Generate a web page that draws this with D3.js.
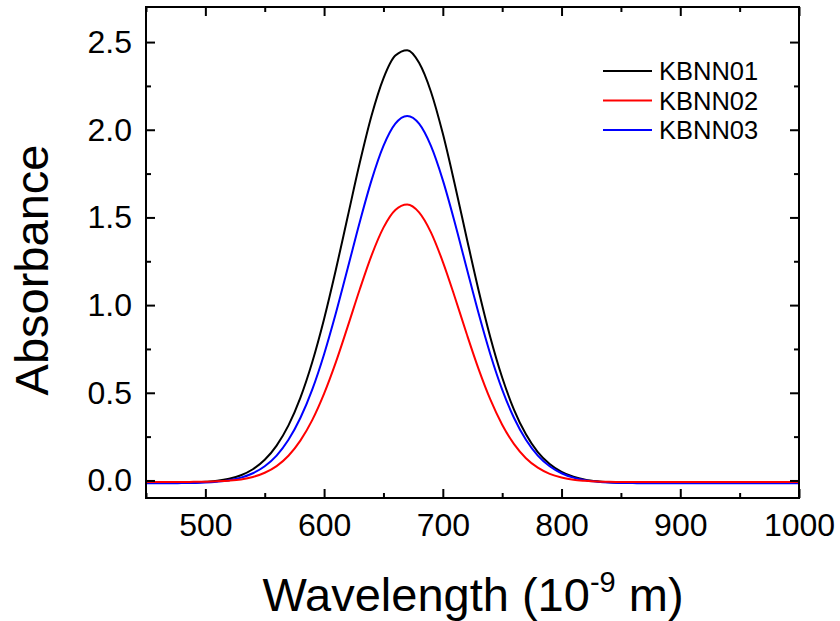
<!DOCTYPE html>
<html>
<head>
<meta charset="utf-8">
<script src="https://cdn.jsdelivr.net/npm/d3@7"></script>
<style>
  body { margin: 0; background: #fff; }
  svg { display: block; font-family: Arial, "Liberation Sans", sans-serif; }
</style>
</head>
<body>
<svg id="chart" width="840" height="621"></svg>
<script>
const wavelengths = [450,460,470,480,490,500,510,520,530,540,550,560,570,580,590,600,610,620,630,640,650,660,670,680,690,700,710,720,730,740,750,760,770,780,790,800,810,820,830,840,850,860,870,880,890,900,950,1000];
const kbnn01 = [-0.015,-0.015,-0.014,-0.013,-0.012,-0.008,-0.002,0.010,0.030,0.064,0.118,0.199,0.314,0.471,0.674,0.921,1.204,1.508,1.810,2.081,2.293,2.423,2.454,2.382,2.217,1.978,1.691,1.386,1.088,0.817,0.587,0.403,0.263,0.162,0.094,0.049,0.021,0.004,-0.005,-0.010,-0.013,-0.014,-0.015,-0.015,-0.015,-0.015,-0.015,-0.015];
const kbnn02 = [-0.009,-0.009,-0.009,-0.009,-0.008,-0.007,-0.005,-0.001,0.006,0.020,0.044,0.082,0.141,0.227,0.344,0.495,0.676,0.880,1.089,1.284,1.442,1.543,1.574,1.529,1.415,1.247,1.048,0.838,0.638,0.462,0.318,0.207,0.127,0.073,0.038,0.017,0.004,-0.002,-0.006,-0.008,-0.009,-0.009,-0.009,-0.009,-0.009,-0.009,-0.009,-0.009];
const kbnn03 = [-0.016,-0.016,-0.016,-0.015,-0.014,-0.012,-0.007,0.001,0.016,0.041,0.081,0.142,0.232,0.356,0.518,0.720,0.956,1.213,1.473,1.713,1.908,2.035,2.079,2.035,1.908,1.713,1.473,1.213,0.956,0.720,0.518,0.356,0.232,0.142,0.081,0.041,0.016,0.001,-0.007,-0.012,-0.014,-0.015,-0.016,-0.016,-0.016,-0.016,-0.016,-0.016];
const seriesNames = ["KBNN01","KBNN02","KBNN03"];
const seriesColors = ["#000000","#ff0000","#0000ff"];
const xTicks = [500,600,700,800,900,1000];
const yTicks = [0.0,0.5,1.0,1.5,2.0,2.5];

const svg = d3.select("#chart");
const L = 146, R = 799, T = 7, B = 498;
const x = d3.scaleLinear().domain([450,1000]).range([L,R]);
const y = d3.scaleLinear().domain([-0.1,2.7]).range([B,T]);

const allSeries = [kbnn01, kbnn02, kbnn03];
const line = d3.line().x(d => x(d[0])).y(d => y(d[1])).curve(d3.curveMonotoneX);

svg.append("clipPath").attr("id","clip").append("rect")
  .attr("x",L).attr("y",T).attr("width",R-L).attr("height",B-T);

const g = svg.append("g").attr("clip-path","url(#clip)");
[0,2,1].forEach(i => {
  g.append("path")
    .datum(wavelengths.map((w,j) => [w, allSeries[i][j]]))
    .attr("d", line)
    .attr("fill","none")
    .attr("stroke", seriesColors[i])
    .attr("stroke-width", 2);
});

const xMinor = [450,550,650,750,850,950];
const yMinor = [0.25,0.75,1.25,1.75,2.25];

const ax = svg.append("g");
ax.append("g").attr("transform",`translate(0,${B})`)
  .call(d3.axisBottom(x).tickValues(xTicks).tickSize(-9).tickFormat(d3.format("d")).tickPadding(15));
ax.append("g").attr("transform",`translate(0,${B})`)
  .call(d3.axisBottom(x).tickValues(xMinor).tickSize(-5).tickFormat(""));
ax.append("g").attr("transform",`translate(0,${T})`)
  .call(d3.axisTop(x).tickValues(xTicks).tickSize(-9).tickFormat(""));
ax.append("g").attr("transform",`translate(0,${T})`)
  .call(d3.axisTop(x).tickValues(xMinor).tickSize(-5).tickFormat(""));
ax.append("g").attr("transform",`translate(${L},0)`)
  .call(d3.axisLeft(y).tickValues(yTicks).tickSize(-9).tickFormat(d3.format(".1f")).tickPadding(14));
ax.append("g").attr("transform",`translate(${L},0)`)
  .call(d3.axisLeft(y).tickValues(yMinor).tickSize(-5).tickFormat(""));
ax.append("g").attr("transform",`translate(${R},0)`)
  .call(d3.axisRight(y).tickValues(yTicks).tickSize(-9).tickFormat(""));
ax.append("g").attr("transform",`translate(${R},0)`)
  .call(d3.axisRight(y).tickValues(yMinor).tickSize(-5).tickFormat(""));
ax.selectAll(".domain").remove();
ax.selectAll(".tick line").attr("stroke","#000").attr("stroke-width",2);
ax.selectAll(".tick text").attr("fill","#000").attr("font-size","32px")
  .attr("font-family","Arial, 'Liberation Sans', sans-serif");

svg.append("rect").attr("x",L).attr("y",T).attr("width",R-L).attr("height",B-T)
  .attr("fill","none").attr("stroke","#000").attr("stroke-width",2);

svg.append("text").attr("x", 473).attr("y", 611).attr("text-anchor","middle")
  .attr("font-size","47px").attr("fill","#000")
  .html('Wavelength (10<tspan dy="-19" font-size="29px">-9</tspan><tspan dy="19"> m)</tspan>');
svg.append("text").attr("transform","translate(48,270) rotate(-90)").attr("text-anchor","middle")
  .attr("font-size","47px").attr("fill","#000").text("Absorbance");

const leg = svg.append("g");
seriesNames.forEach((n,i) => {
  const yy = 71 + i*29.5;
  leg.append("line").attr("x1",603).attr("x2",652).attr("y1",yy).attr("y2",yy)
    .attr("stroke",seriesColors[i]).attr("stroke-width",2);
  leg.append("text").attr("x",659).attr("y",yy+9).attr("font-size","25.5px").attr("fill","#000").text(n);
});
</script>
</body>
</html>
